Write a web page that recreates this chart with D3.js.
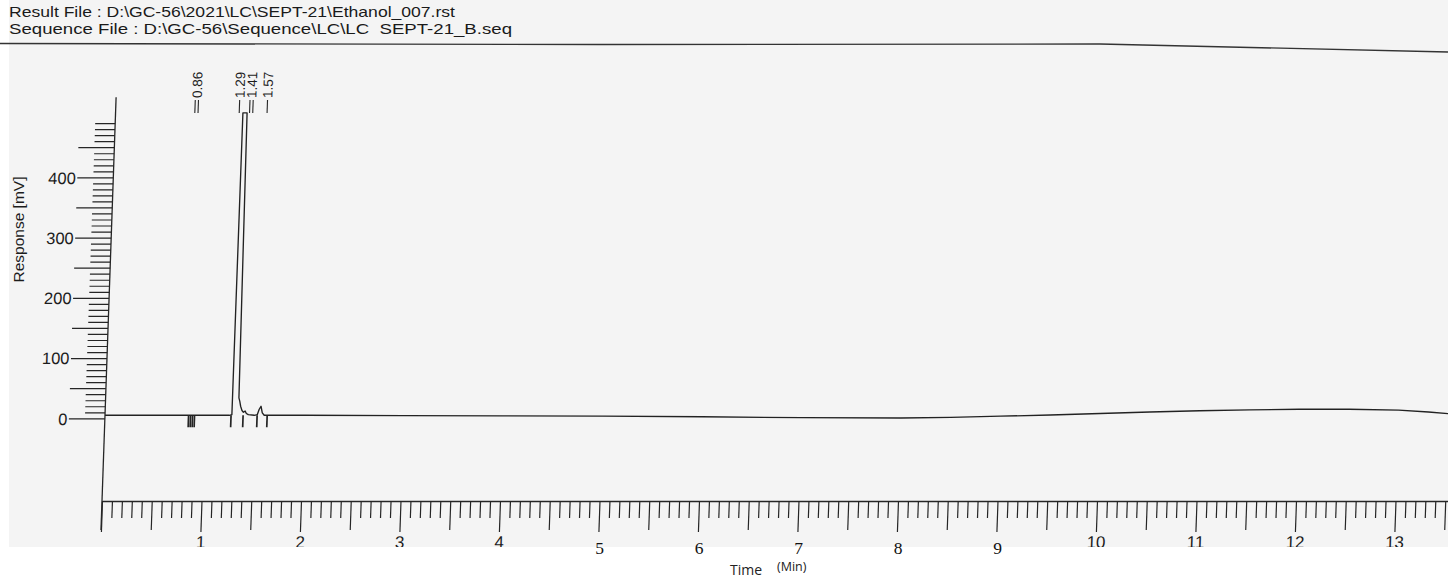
<!DOCTYPE html>
<html><head><meta charset="utf-8">
<script src="https://cdn.jsdelivr.net/npm/d3@7"></script>
<style>html,body{margin:0;padding:0;background:#fff;} svg{display:block}</style>
</head><body><svg id="c" width="1448" height="578"></svg>
<script>
// ---------- data ----------
const headerLines = [
  "Result File : D:\\GC-56\\2021\\LC\\SEPT-21\\Ethanol_007.rst",
  "Sequence File : D:\\GC-56\\Sequence\\LC\\LC  SEPT-21_B.seq"
];
const traceTime = [0, 0.5, 1.0, 1.25, 1.275, 1.28, 1.322, 1.34, 1.35, 1.36, 1.375, 1.39, 1.407, 1.42, 1.44, 1.5, 1.53, 1.548, 1.565, 1.58, 1.6, 1.7, 2, 3, 4, 5, 6, 7, 8, 8.5, 9, 9.5, 10, 10.5, 11, 11.5, 12, 12.5, 13, 13.3, 13.55];
const traceMv   = [5, 5, 5, 5, 6, 507, 507, 34, 28, 20, 13, 10, 12, 8, 6, 5, 6, 15, 20, 9, 5, 5, 5, 4.5, 4, 3.5, 2.5, 1, 0.5, 1.5, 3.5, 5.5, 8, 10.5, 12.5, 14, 15, 15, 13.5, 10.5, 7];
const peakTimes  = [0.86, 1.29, 1.41, 1.57];
const peakLabels = ["0.86", "1.29", "1.41", "1.57"];
const peakMarks  = [2, 1, 2, 1];
const eventTimes = [0.84, 0.86, 0.88, 0.9, 1.267, 1.388, 1.529, 1.63];
const yTickLabels = [0, 100, 200, 300, 400];
const xTickLabels = [1, 2, 3, 4, 10, 11, 12, 13];
const xRetypedLabels = [5, 6, 7, 8, 9];
const yTitle = "Response [mV]";
const xTitle = "Time";
const xUnit = "(Min)";

// ---------- drawing ----------
const svg = d3.select("#c");
const ink = "#252525";
svg.append("rect").attr("width", 1448).attr("height", 578).attr("fill", "#ffffff");
svg.append("rect").attr("x", 9).attr("y", 0).attr("width", 1439).attr("height", 547).attr("fill", "#f4f4f4");

// header
svg.selectAll("text.hdr").data(headerLines).join("text")
  .attr("class", "hdr")
  .attr("x", 9).attr("y", (d, i) => 17 + i * 17)
  .attr("font-family", "Liberation Sans, Arial, sans-serif")
  .attr("font-size", 15).attr("fill", "#1a1a1a")
  .attr("textLength", (d, i) => i === 0 ? 446 : 503)
  .attr("lengthAdjust", "spacingAndGlyphs")
  .style("white-space", "pre")
  .text(d => d);
svg.append("path")
  .attr("d", d3.line()([[0, 43.5], [600, 44.5], [1100, 44], [1448, 52]]))
  .attr("fill", "none").attr("stroke", "#333").attr("stroke-width", 1.4);

// y title
svg.append("text")
  .attr("transform", "translate(24,229.5) rotate(-90)")
  .attr("text-anchor", "middle")
  .attr("font-family", "Liberation Sans, Arial, sans-serif")
  .attr("font-size", 15.5).attr("fill", "#1c1c1c")
  .text(yTitle);

const x = d3.scaleLinear().domain([0, 13.55]).range([102, 102 + 13.55 * 99.5]);
const y = d3.scaleLinear().domain([0, 533]).range([418.3, 97.2]);
const axisY = 501;

const g = svg.append("g").attr("transform", `translate(0,${axisY}) skewX(-2) translate(0,${-axisY})`);

// x ruler
const allTenths = d3.range(0, 136).map(i => i / 10);
const xMinor = allTenths.filter((d, i) => i % 5 !== 0);
const xHalf = allTenths.filter((d, i) => i % 10 === 5);
const xMajor = allTenths.filter((d, i) => i % 10 === 0);
function styleAxis(sel) {
  sel.selectAll("line").attr("stroke", ink).attr("stroke-width", 1.2);
  sel.selectAll("path.domain").attr("stroke", ink).attr("stroke-width", 1.3);
}
g.append("g").attr("transform", `translate(0,${axisY})`)
  .call(d3.axisBottom(x).tickValues(xMinor).tickSize(17).tickSizeOuter(0).tickFormat(""))
  .call(styleAxis);
g.append("g").attr("transform", `translate(0,${axisY})`)
  .call(d3.axisBottom(x).tickValues(xHalf).tickSize(29).tickSizeOuter(0).tickFormat(""))
  .call(s => s.select(".domain").remove()).call(styleAxis);
const xMaj = g.append("g").attr("transform", `translate(0,${axisY})`)
  .call(d3.axisBottom(x).tickValues(xMajor).tickSize(31).tickSizeOuter(0)
    .tickFormat(d => xTickLabels.includes(Math.round(d)) ? d3.format("d")(d) : ""))
  .call(s => s.select(".domain").remove()).call(styleAxis);
xMaj.selectAll("text").attr("y", 47).attr("dy", 0)
  .attr("font-family", "Liberation Sans, Arial, sans-serif").attr("font-size", 17).attr("fill", "#1c1c1c");

// y axis
const yAll = d3.range(0, 500, 10);
g.append("g").attr("transform", `translate(${x(0)},0)`)
  .call(d3.axisLeft(y).tickValues(yAll.filter(d => d % 50 !== 0)).tickSize(20).tickFormat(""))
  .call(s => s.select(".domain").remove()).call(styleAxis);
g.append("g").attr("transform", `translate(${x(0)},0)`)
  .call(d3.axisLeft(y).tickValues(yAll.filter(d => d % 50 === 0 && !yTickLabels.includes(d))).tickSize(36).tickFormat(""))
  .call(s => s.select(".domain").remove()).call(styleAxis);
const yMaj = g.append("g").attr("transform", `translate(${x(0)},0)`)
  .call(d3.axisLeft(y).tickValues(yTickLabels).tickSize(36).tickPadding(1.5).tickFormat(d3.format("d")))
  .call(s => s.select(".domain").remove()).call(styleAxis);
yMaj.selectAll("text").attr("dy", "0.35em")
  .attr("font-family", "Liberation Sans, Arial, sans-serif").attr("font-size", 16.5).attr("fill", "#1c1c1c");
g.append("line")
  .attr("x1", x(0)).attr("x2", x(0)).attr("y1", y(533)).attr("y2", axisY + 29)
  .attr("stroke", ink).attr("stroke-width", 1.3);

// trace
const pts = traceTime.map((t, i) => [t, traceMv[i]]);
g.append("path")
  .attr("d", d3.line().x(d => x(d[0])).y(d => y(d[1]))(pts))
  .attr("fill", "none").attr("stroke", "#222").attr("stroke-width", 1.35).attr("stroke-linejoin", "round");

// integration event marks
g.selectAll("line.ev").data(eventTimes).join("line")
  .attr("class", "ev")
  .attr("x1", d => x(d)).attr("x2", d => x(d))
  .attr("y1", y(0) - 3).attr("y2", y(0) + 9)
  .attr("stroke", ink).attr("stroke-width", 1.7);

// peak labels
g.selectAll("text.pk").data(peakTimes).join("text")
  .attr("class", "pk")
  .attr("transform", d => `translate(${x(d)},98) rotate(-90)`)
  .attr("font-family", "Liberation Sans, Arial, sans-serif").attr("font-size", 13.5).attr("fill", "#1c1c1c")
  .text((d, i) => peakLabels[i]);
peakTimes.forEach((t, i) => {
  const n = peakMarks[i];
  for (let k = 0; k < n; k++) {
    const off = n === 1 ? 0 : (k === 0 ? -1.6 : 1.6);
    g.append("line")
      .attr("x1", x(t) - 4.7 + off).attr("x2", x(t) - 4.7 + off)
      .attr("y1", 100).attr("y2", 113)
      .attr("stroke", ink).attr("stroke-width", 1.1);
  }
});

// white band at the bottom
svg.append("rect").attr("x", 0).attr("y", 547).attr("width", 1448).attr("height", 31).attr("fill", "#ffffff");

// retyped serif tick labels
svg.selectAll("text.rt").data(xRetypedLabels).join("text")
  .attr("class", "rt")
  .attr("x", d => x(d)).attr("y", 553.5)
  .attr("text-anchor", "middle")
  .attr("font-family", "Liberation Serif, Times New Roman, serif").attr("font-size", 17.5).attr("fill", "#111")
  .text(d => d);

// x title
svg.append("text").attr("x", 730).attr("y", 574.5)
  .attr("font-family", "Open Sans, sans-serif").attr("font-size", 14).attr("fill", "#222").text(xTitle);
svg.append("text").attr("x", 777).attr("y", 570.5)
  .attr("font-family", "Open Sans, sans-serif").attr("font-size", 12.5).attr("fill", "#222").text(xUnit);
</script>
</body></html>
